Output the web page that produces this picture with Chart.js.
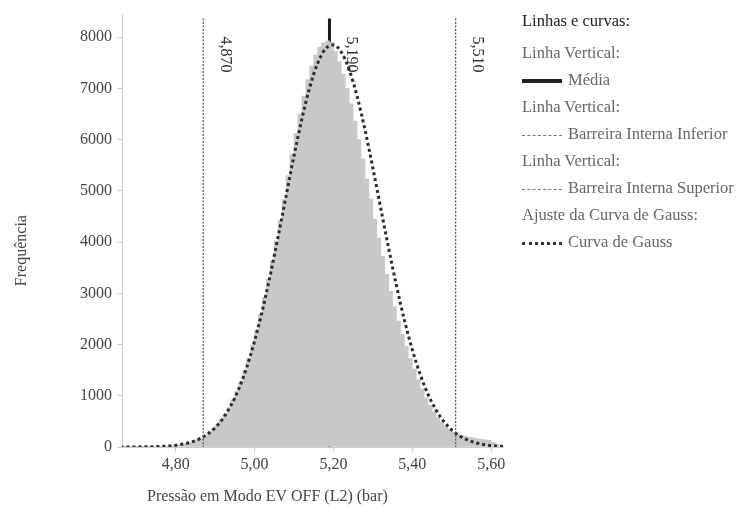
<!DOCTYPE html>
<html lang="pt">
<head>
<meta charset="utf-8">
<title>Pressão em Modo EV OFF (L2) - histograma</title>
<script src="https://cdn.jsdelivr.net/npm/chart.js@4/dist/chart.umd.min.js"></script>
<style>
    html, body { margin: 0; padding: 0; background: #fff; }
    #quadro { position: relative; width: 737px; height: 516px; overflow: hidden; }
    #grafico { position: absolute; left: 0; top: 0; }
    .legenda {
        position: absolute; left: 522px; top: 7px;
        font-family: 'Liberation Serif', 'Times New Roman', serif;
        font-size: 16.5px; color: #666; line-height: 27px; white-space: nowrap;
    }
    .legenda .titulo { color: #222; margin-bottom: 5px; }
    .legenda .amostra { display: inline-block; width: 40px; vertical-align: middle; margin-right: 6px; }
    .amostra.media { border-top: 4px solid #222; }
    .amostra.barreira { border-top: 1px dashed #777; }
    .amostra.gauss { border-top: 3px dotted #333; }
</style>
</head>
<body>
<div id="quadro">
    <canvas id="grafico" width="737" height="516"></canvas>
    <div class="legenda">
        <div class="titulo">Linhas e curvas:</div>
        <div>Linha Vertical:</div>
        <div><span class="amostra media"></span>Média</div>
        <div>Linha Vertical:</div>
        <div><span class="amostra barreira"></span>Barreira Interna Inferior</div>
        <div>Linha Vertical:</div>
        <div><span class="amostra barreira"></span>Barreira Interna Superior</div>
        <div>Ajuste da Curva de Gauss:</div>
        <div><span class="amostra gauss"></span>Curva de Gauss</div>
    </div>
</div>
<script>
// Centros das classes do histograma (bar)
const classes = [
    4.665, 4.675, 4.685, 4.695, 4.705, 4.715, 4.725, 4.735, 4.745, 4.755,
    4.765, 4.775, 4.785, 4.795, 4.805, 4.815, 4.825, 4.835, 4.845, 4.855,
    4.865, 4.875, 4.885, 4.895, 4.905, 4.915, 4.925, 4.935, 4.945, 4.955,
    4.965, 4.975, 4.985, 4.995, 5.005, 5.015, 5.025, 5.035, 5.045, 5.055,
    5.065, 5.075, 5.085, 5.095, 5.105, 5.115, 5.125, 5.135, 5.145, 5.155,
    5.165, 5.175, 5.185, 5.195, 5.205, 5.215, 5.225, 5.235, 5.245, 5.255,
    5.265, 5.275, 5.285, 5.295, 5.305, 5.315, 5.325, 5.335, 5.345, 5.355,
    5.365, 5.375, 5.385, 5.395, 5.405, 5.415, 5.425, 5.435, 5.445, 5.455,
    5.465, 5.475, 5.485, 5.495, 5.505, 5.515, 5.525, 5.535, 5.545, 5.555,
    5.565, 5.575, 5.585, 5.595, 5.605, 5.615
];

// Frequência de cada classe
const frequencias = [
    1, 2, 2, 3, 3, 4, 5, 7, 9, 11,
    14, 18, 24, 31, 40, 52, 66, 85, 108, 138,
    175, 220, 278, 345, 428, 525, 640, 770, 920, 1090,
    1280, 1495, 1730, 1990, 2280, 2590, 2920, 3270, 3640, 4020,
    4420, 4830, 5300, 5720, 6120, 6500, 6850, 7170, 7440, 7650,
    7800, 7890, 7930, 7900, 7720, 7520, 7280, 7000, 6700, 6360,
    6000, 5620, 5230, 4840, 4450, 4080, 3720, 3370, 3040, 2740,
    2460, 2200, 1960, 1730, 1520, 1310, 1130, 960, 815, 690,
    580, 485, 405, 340, 290, 255, 230, 210, 190, 175,
    160, 150, 140, 130, 90, 40
];

// Curva de Gauss ajustada
const gaussX = [
    4.66, 4.68, 4.70, 4.72, 4.74, 4.76, 4.78, 4.80, 4.82, 4.84,
    4.86, 4.88, 4.90, 4.92, 4.94, 4.96, 4.98, 5.00, 5.02, 5.04,
    5.06, 5.08, 5.10, 5.12, 5.14, 5.16, 5.18, 5.20, 5.22, 5.24,
    5.26, 5.28, 5.30, 5.32, 5.34, 5.36, 5.38, 5.40, 5.42, 5.44,
    5.46, 5.48, 5.50, 5.52, 5.54, 5.56, 5.58, 5.60, 5.62, 5.63
];
const gaussY = [
    0, 1, 2, 3, 6, 11, 20, 34, 59, 97,
    157, 247, 376, 560, 808, 1134, 1550, 2063, 2669, 3359,
    4113, 4899, 5678, 6400, 7019, 7489, 7772, 7848, 7708, 7366,
    6847, 6192, 5448, 4662, 3882, 3145, 2478, 1899, 1416, 1027,
    725, 498, 333, 216, 137, 84, 50, 29, 17, 12
];

// Linhas verticais: barreira inferior, média, barreira superior
const linhasValores = [4.870, 5.190, 5.510];
const linhasRotulos = ['4,870', '5,190', '5,510'];

const xTicks = [4.80, 5.00, 5.20, 5.40, 5.60];
const yTicks = [0, 1000, 2000, 3000, 4000, 5000, 6000, 7000, 8000];

const FONTE = "'Liberation Serif', 'Times New Roman', serif";

(function() {
    'use strict';

    function linhaVertical(ctx, area, x, largura, cor, traco) {
        ctx.save();
        ctx.beginPath();
        ctx.lineWidth = largura;
        ctx.strokeStyle = cor;
        ctx.setLineDash(traco);
        ctx.moveTo(x, area.top + 4);
        ctx.lineTo(x, area.bottom);
        ctx.stroke();
        ctx.restore();
    }

    const linhasPlugin = {
        id: 'linhasVerticais',
        beforeDatasetsDraw: function(chart) {
            // a média fica atrás do histograma
            const x = chart.scales.x.getPixelForValue(linhasValores[1]);
            linhaVertical(chart.ctx, chart.chartArea, x, 3, '#1a1a1a', []);
        },
        afterDatasetsDraw: function(chart) {
            const ctx = chart.ctx;
            const area = chart.chartArea;
            [0, 2].forEach(function(i) {
                const x = chart.scales.x.getPixelForValue(linhasValores[i]);
                linhaVertical(ctx, area, x, 1.2, '#555', [2, 1.5]);
            });
            linhasValores.forEach(function(v, i) {
                const x = chart.scales.x.getPixelForValue(v);
                ctx.save();
                ctx.translate(x + 22, area.top + 22);
                ctx.rotate(Math.PI / 2);
                ctx.font = '16px ' + FONTE;
                ctx.fillStyle = '#333';
                ctx.textAlign = 'left';
                ctx.textBaseline = 'middle';
                ctx.fillText(linhasRotulos[i], 0, 0);
                ctx.restore();
            });
        }
    };

    const titulosPlugin = {
        id: 'titulosEixos',
        afterDraw: function(chart) {
            const ctx = chart.ctx;
            const area = chart.chartArea;
            ctx.save();
            ctx.font = '16px ' + FONTE;
            ctx.fillStyle = '#444';
            ctx.textBaseline = 'middle';
            ctx.textAlign = 'left';
            ctx.fillText('Pressão em Modo EV OFF (L2) (bar)', area.left + 25, area.bottom + 50);
            ctx.translate(22, area.top + 236);
            ctx.rotate(-Math.PI / 2);
            ctx.textAlign = 'center';
            ctx.fillText('Frequência', 0, 0);
            ctx.restore();
        }
    };

    const ctx = document.getElementById('grafico').getContext('2d');

    new Chart(ctx, {
        type: 'bar',
        data: {
            datasets: [{
                type: 'line',
                label: 'Curva de Gauss',
                data: gaussX.map(function(x, i) { return { x: x, y: gaussY[i] }; }),
                borderColor: '#2b2b2b',
                borderWidth: 3,
                borderDash: [3, 3],
                pointRadius: 0,
                fill: false,
                cubicInterpolationMode: 'monotone',
                order: 0
            }, {
                label: 'Frequência',
                data: classes.map(function(x, i) { return { x: x, y: frequencias[i] }; }),
                backgroundColor: '#c8c8c8',
                borderWidth: 0,
                barPercentage: 1,
                categoryPercentage: 1,
                order: 1
            }]
        },
        options: {
            responsive: false,
            animation: false,
            devicePixelRatio: 1,
            layout: { padding: { top: 10, right: 234, bottom: 0, left: 0 } },
            plugins: {
                legend: { display: false },
                tooltip: { enabled: false }
            },
            scales: {
                x: {
                    type: 'linear',
                    min: 4.664,
                    max: 5.63,
                    offset: false,
                    afterBuildTicks: function(axis) {
                        axis.ticks = xTicks.map(function(v) { return { value: v }; });
                    },
                    afterFit: function(axis) { axis.height = 69; },
                    ticks: {
                        color: '#444',
                        padding: 3,
                        maxRotation: 0,
                        font: { family: FONTE, size: 16 },
                        callback: function(v) { return Number(v).toFixed(2).replace('.', ','); }
                    },
                    grid: { display: true, drawOnChartArea: false, drawTicks: true, tickLength: 5, color: '#ccc', offset: false },
                    border: { display: true, color: '#ccc' }
                },
                y: {
                    min: 0,
                    max: 8440,
                    afterBuildTicks: function(axis) {
                        axis.ticks = yTicks.map(function(v) { return { value: v }; });
                    },
                    afterFit: function(axis) { axis.width = 122; },
                    ticks: {
                        color: '#444',
                        padding: 5,
                        font: { family: FONTE, size: 16 },
                        callback: function(v) { return String(v); }
                    },
                    grid: { display: true, drawOnChartArea: false, drawTicks: true, tickLength: 5, color: '#ccc' },
                    border: { display: true, color: '#ccc' }
                }
            }
        },
        plugins: [linhasPlugin, titulosPlugin]
    });
})();
</script>
</body>
</html>
